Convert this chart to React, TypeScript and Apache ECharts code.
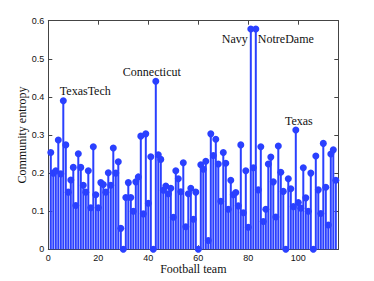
import React, { useEffect, useRef } from "react";
import * as echarts from "echarts";

const entropy: number[] = [
  0.254, 0.200, 0.206, 0.287, 0.198, 0.390, 0.274, 0.150, 0.182, 0.215,
  0.115, 0.251, 0.215, 0.168, 0.150, 0.206, 0.109, 0.269, 0.143, 0.109,
  0.175, 0.170, 0.150, 0.201, 0.168, 0.266, 0.200, 0.230, 0.055, 0,
  0.136, 0.175, 0.136, 0.100, 0.177, 0.190, 0.297, 0.093, 0.303, 0.121,
  0.243, 0, 0.441, 0.248, 0.236, 0.155, 0.166, 0.146, 0.160, 0.084,
  0.206, 0.185, 0.151, 0.227, 0.059, 0.146, 0.160, 0.079, 0.150, 0,
  0.222, 0.210, 0.231, 0.023, 0.303, 0.246, 0.289, 0.224, 0.126, 0.254,
  0.226, 0.105, 0.181, 0.143, 0.149, 0.114, 0.274, 0.096, 0.206, 0.058,
  0.578, 0.214, 0.578, 0.156, 0.269, 0.073, 0.105, 0.224, 0.242, 0.177,
  0.085, 0.271, 0.202, 0.152, 0, 0.185, 0.159, 0.112, 0.313, 0.123,
  0.108, 0.214, 0.135, 0.100, 0.200, 0, 0.245, 0.156, 0.094, 0.278,
  0.163, 0.064, 0.250, 0.261, 0.181,
];

const annotatedTeams: number[] = [6, 43, 81, 83, 99];
const annotatedNames: string[] = ["TexasTech", "Connecticut", "Navy", "NotreDame", "Texas"];
const annotationOffsets: [number, number][] = [[22, -10], [-4, -9], [-16, 10], [30, 10], [3, -9]];

const xTicks: number[] = [0, 20, 40, 60, 80, 100];

const BLUE = "#2a40ff";
const SERIF = "'Liberation Serif', 'DejaVu Serif', serif";
const SANS = "'Liberation Sans', Arial, sans-serif";

export default function App() {
  const ref = useRef<HTMLDivElement>(null);
  useEffect(() => {
    if (!ref.current) return;
    const chart = echarts.init(ref.current, undefined, { renderer: "svg" });
    const barData = entropy.map((v, i) => [i + 1, v]);
    const dotData = entropy.map((v, i) => {
      const team = i + 1;
      const k = annotatedTeams.indexOf(team);
      if (k < 0) return [team, v];
      return {
        value: [team, v],
        label: {
          show: true,
          position: "inside",
          offset: annotationOffsets[k],
          formatter: annotatedNames[k],
          color: "#111",
          fontFamily: SERIF,
          fontSize: 12,
        },
      };
    });
    const axisLine = { show: true, onZero: false, lineStyle: { color: "#444", width: 1 } };
    const tick = { show: true, inside: true, length: 4, lineStyle: { color: "#444" } };
    chart.setOption({
      animation: false,
      backgroundColor: "#fff",
      grid: { left: 48.3, right: 35.7, top: 20.7, bottom: 31.7, containLabel: false },
      xAxis: [
        {
          type: "value",
          min: 0,
          max: 116,
          interval: 20,
          axisLine,
          axisTick: tick,
          splitLine: { show: false },
          axisLabel: {
            color: "#111",
            fontFamily: SANS,
            fontSize: 9,
            margin: 4,
            formatter: (v: number) => (xTicks.includes(v) ? String(v) : ""),
          },
          name: "Football team",
          nameLocation: "middle",
          nameGap: 14,
          nameMoveOverlap: false,
          nameTextStyle: { color: "#111", fontFamily: SERIF, fontSize: 12 },
        },
        {
          type: "value",
          position: "top",
          min: 0,
          max: 116,
          interval: 20,
          axisLine,
          axisTick: tick,
          axisLabel: { show: false },
          splitLine: { show: false },
        },
      ],
      yAxis: [
        {
          type: "value",
          min: 0,
          max: 0.6,
          interval: 0.1,
          axisLine,
          axisTick: tick,
          splitLine: { show: false },
          axisLabel: {
            color: "#111",
            fontFamily: SANS,
            fontSize: 9,
            margin: 4,
            formatter: (v: number) => (v === 0 ? "0" : v.toFixed(1)),
          },
          name: "Community entropy",
          nameLocation: "middle",
          nameGap: 20,
          nameMoveOverlap: false,
          nameTextStyle: { color: "#111", fontFamily: SERIF, fontSize: 12 },
        },
        {
          type: "value",
          position: "right",
          min: 0,
          max: 0.6,
          interval: 0.1,
          axisLine,
          axisTick: tick,
          axisLabel: { show: false },
          splitLine: { show: false },
        },
      ],
      series: [
        {
          type: "bar",
          data: barData,
          barWidth: 2,
          itemStyle: { color: BLUE },
          xAxisIndex: 0,
          yAxisIndex: 0,
        },
        {
          type: "scatter",
          data: dotData,
          symbol: "circle",
          symbolSize: 7,
          clip: false,
          itemStyle: { color: BLUE, opacity: 1 },
          xAxisIndex: 0,
          yAxisIndex: 0,
          z: 3,
        },
      ],
    });
    return () => chart.dispose();
  }, []);
  return (
    <div
      ref={ref}
      style={{ position: "absolute", left: 0, top: 0, width: 374, height: 281 }}
    />
  );
}
